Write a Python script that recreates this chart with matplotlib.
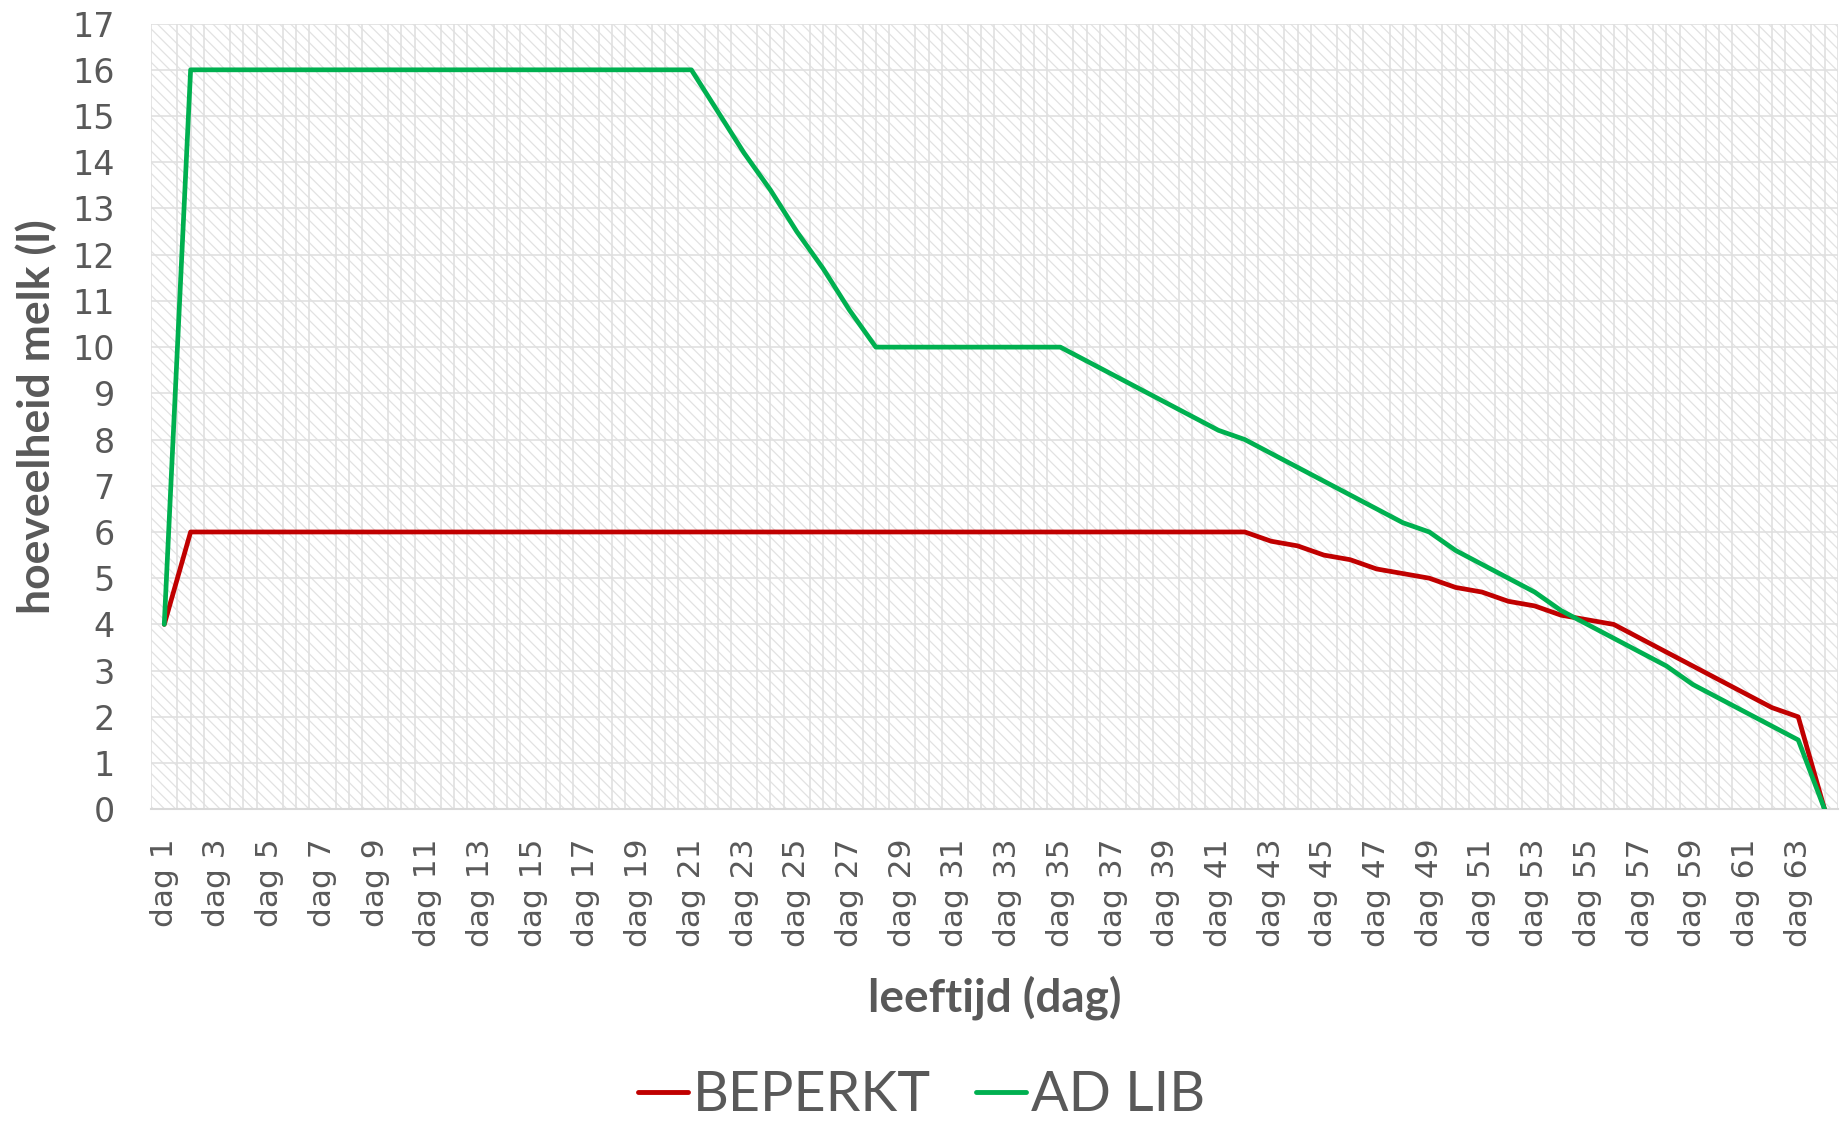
import numpy as np
import matplotlib
matplotlib.use("Agg")
import matplotlib.pyplot as plt
from matplotlib.patches import Rectangle

# dag 1 .. dag 64
days = [f"dag {i}" for i in range(1, 65)]

beperkt = [4.0] + [6.0] * 41 + [
    5.8, 5.7, 5.5, 5.4, 5.2, 5.1, 5.0, 4.8, 4.7, 4.5, 4.4, 4.2, 4.1, 4.0,
    3.7, 3.4, 3.1, 2.8, 2.5, 2.2, 2.0, 0.0,
]

ad_lib = [4.0] + [16.0] * 20 + [15.1, 14.2, 13.4, 12.5, 11.7, 10.8] + [10.0] * 8 + [
    9.7, 9.4, 9.1, 8.8, 8.5, 8.2, 8.0, 7.7, 7.4, 7.1, 6.8, 6.5, 6.2, 6.0,
    5.6, 5.3, 5.0, 4.7, 4.3, 4.0, 3.7, 3.4, 3.1, 2.7, 2.4, 2.1, 1.8, 1.5, 0.0,
]

y_ticks = list(range(0, 18))

text_col = "#595959"
grid_col = "#e0e0e0"

plt.rcParams["hatch.linewidth"] = 0.9

fig = plt.figure(figsize=(18.47, 11.24), dpi=100)
ax = fig.add_axes([0.0818, 0.280, 0.9132, 0.699])

x = np.arange(len(days))

# hatched plot area background
bg = Rectangle((0, 0), 1, 1, transform=ax.transAxes, facecolor="white",
               edgecolor="#e2e2e2", hatch="\\\\\\", linewidth=0, zorder=0)
ax.add_patch(bg)

ax.plot(x, beperkt, color="#C00000", lw=3.4, label="BEPERKT", zorder=3,
        solid_joinstyle="round", solid_capstyle="round")
ax.plot(x, ad_lib, color="#00B050", lw=3.4, label="AD LIB", zorder=3,
        solid_joinstyle="round", solid_capstyle="round")

ax.set_xlim(-0.5, len(days) - 0.5)
ax.set_ylim(0, 17)

ax.set_xticks(x[::2])
ax.set_xticklabels(days[::2], rotation=90, fontsize=22.5, color=text_col,
                   family="DejaVu Sans")
ax.set_xticks(np.arange(-0.5, len(days), 0.5), minor=True)
ax.set_yticks(y_ticks)
ax.set_yticklabels([str(v) for v in y_ticks], fontsize=24, color=text_col,
                   family="DejaVu Sans")

ax.tick_params(axis="x", which="both", length=0, pad=21)
ax.tick_params(axis="y", which="both", length=0, pad=26)

ax.grid(False)
ax.grid(axis="x", which="minor", color=grid_col, lw=1.2, zorder=1)
ax.grid(axis="y", which="major", color=grid_col, lw=1.2, zorder=1)
ax.set_axisbelow(True)

for s in ["top", "right", "left"]:
    ax.spines[s].set_visible(False)
ax.spines["bottom"].set_color("#d9d9d9")
ax.spines["bottom"].set_linewidth(1.5)

ax.set_ylabel("hoeveelheid melk (l)", fontsize=32, fontweight="bold",
              color=text_col, family="Lato")
ax.yaxis.set_label_coords(-0.056, 0.5)
ax.set_xlabel("leeftijd (dag)", fontsize=33, fontweight="bold",
              color=text_col, family="Lato")
ax.xaxis.set_label_coords(0.5, -0.212)

leg = fig.legend(loc="center", bbox_to_anchor=(0.499, 0.025), ncol=2,
                 frameon=False, handlelength=0.9, handletextpad=0.1,
                 columnspacing=0.8, prop={"family": "Lato", "size": 40})
for t in leg.get_texts():
    t.set_color(text_col)
for h in leg.get_lines():
    h.set_linewidth(3.5)

fig.savefig("out.png", dpi=100)
